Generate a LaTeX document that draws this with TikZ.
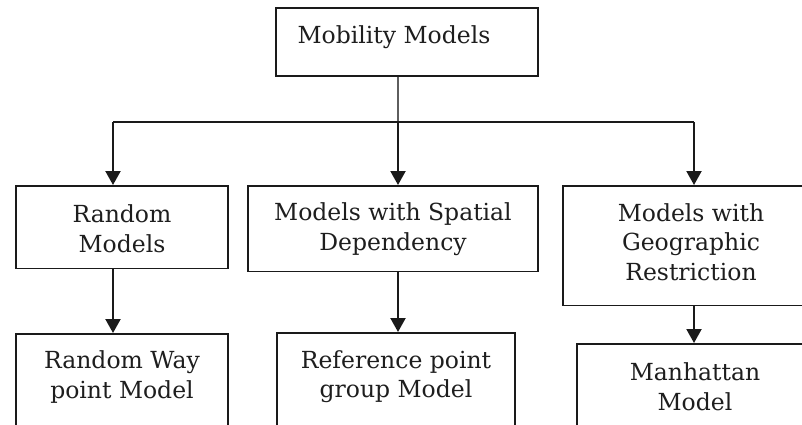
\documentclass[tikz,border=0pt]{standalone}
\usepackage{fontspec}
\setmainfont{DejaVu Serif}
\usetikzlibrary{arrows.meta}

% #1 = space above first baseline, #2 = space below last baseline, #3 = lines
\newcommand\boxlines[3]{\rule{0pt}{#1pt}#3\rule[-#2pt]{0pt}{#2pt}}

\definecolor{ink}{HTML}{1A1A1A}
\definecolor{txt}{HTML}{1E1E1E}
\definecolor{stem}{HTML}{5E5E5E}

\begin{document}
\begin{tikzpicture}[x=1pt, y=-1pt,
  modelbox/.style={draw=ink, line width=1.7pt, fill=white, anchor=north,
    inner sep=0pt, align=center, text=txt,
    font=\fontsize{23.5}{29.5}\selectfont},
  flow/.style={draw=ink, line width=2.1pt},
  flowarrow/.style={flow, -{Triangle[width=15pt,length=14pt]}}]

\useasboundingbox (0,0) rectangle (802,425);
\fill[white] (0,0) rectangle (802,425);
\clip (0,0) rectangle (802,425);

% root
\node[modelbox, minimum width=262pt] (mm) at (407,7)
  {\rule{0pt}{36pt}Mobility Models\kern26pt\rule[-32pt]{0pt}{32pt}};

% model families
\node[modelbox, minimum width=212pt] (rm) at (122,185)
  {\boxlines{37}{16}{Random\\Models}};
\node[modelbox, minimum width=290pt] (sd) at (393,185)
  {\boxlines{35}{21}{Models with Spatial\\Dependency}};
\node[modelbox, minimum width=256pt] (gr) at (691,185)
  {\boxlines{35.5}{25}{Models with\\Geographic\\Restriction}};

% concrete models
\node[modelbox, minimum width=212pt] (rw) at (122,333)
  {\boxlines{35}{60}{Random Way\\point Model}};
\node[modelbox, minimum width=238pt] (rp) at (396,332)
  {\boxlines{35.5}{60}{Reference point\\group Model}};
\node[modelbox, minimum width=236pt] (mh) at (695,343)
  {\boxlines{37}{60}{Manhattan\\Model}};

% branching bus
\coordinate (j)  at (398,122);
\coordinate (bl) at (113,122);
\coordinate (br) at (694,122);

\draw[draw=stem, line width=2.3pt] (mm.south -| j) -- (j);
\draw[flow] (bl) -- (br);
\draw[flowarrow] (bl) -- (bl |- rm.north);
\draw[flowarrow] (j)  -- (j |- sd.north);
\draw[flowarrow] (br) -- (br |- gr.north);

% family to model
\draw[flowarrow] (bl |- rm.south) -- (bl |- rw.north);
\draw[flowarrow] (j |- sd.south)  -- (j |- rp.north);
\draw[flowarrow] (br |- gr.south) -- (br |- mh.north);

\end{tikzpicture}
\end{document}
